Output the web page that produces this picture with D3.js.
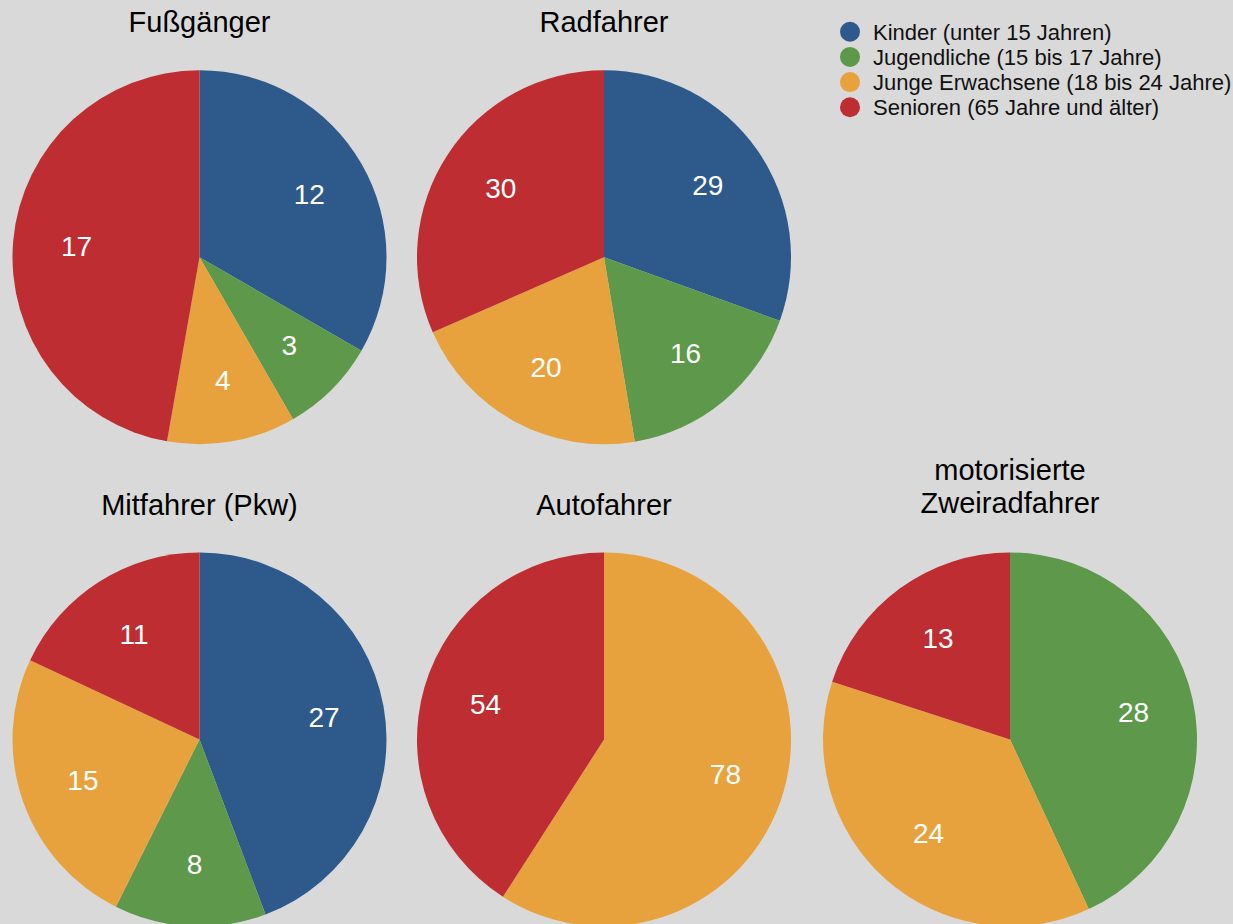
<!DOCTYPE html>
<html>
<head>
<meta charset="utf-8">
<script src="https://cdn.jsdelivr.net/npm/d3@7"></script>
<style>
  html, body { margin: 0; padding: 0; background: #d9d9d9; }
  svg { display: block; font-family: "Liberation Sans", Helvetica, Arial, sans-serif; }
</style>
</head>
<body>
<svg id="chart" width="1233" height="924"></svg>
<script>
// ---- data ----
const categories = [
  "Kinder (unter 15 Jahren)",
  "Jugendliche (15 bis 17 Jahre)",
  "Junge Erwachsene (18 bis 24 Jahre)",
  "Senioren (65 Jahre und älter)"
];
const colors = ["#2d5a8b", "#5e984a", "#e8a23d", "#bd2d32"];

const chartTitles = [
  ["Fußgänger"],
  ["Radfahrer"],
  ["Mitfahrer (Pkw)"],
  ["Autofahrer"],
  ["motorisierte", "Zweiradfahrer"]
];
const fussgaenger = [12, 3, 4, 17];
const radfahrer = [29, 16, 20, 30];
const mitfahrer = [27, 8, 15, 11];
const autofahrer = [0, 0, 78, 54];
const zweiradfahrer = [0, 28, 24, 13];
const seriesValues = [fussgaenger, radfahrer, mitfahrer, autofahrer, zweiradfahrer];

// ---- layout ----
const svg = d3.select("#chart");
const R = 187;
const labelR = 125;
const centers = [
  [199.5, 257.2],
  [604, 257.2],
  [199.5, 739.5],
  [604, 739.5],
  [1010, 739.5]
];
const titleBaselines = [32, 32, 515, 515, 480];

const color = d3.scaleOrdinal().domain(d3.range(categories.length)).range(colors);
const pie = d3.pie().sort(null).value(d => d.v);
const arc = d3.arc().innerRadius(0).outerRadius(R);
const labelArc = d3.arc().innerRadius(labelR).outerRadius(labelR);

seriesValues.forEach((vals, i) => {
  const data = vals.map((v, k) => ({ v, k })).filter(d => d.v > 0);
  const g = svg.append("g").attr("transform", `translate(${centers[i][0]},${centers[i][1]})`);
  const arcs = pie(data);
  g.selectAll("path.slice").data(arcs).join("path")
    .attr("class", "slice")
    .attr("d", arc)
    .attr("fill", d => color(d.data.k));
  g.selectAll("text.lbl").data(arcs).join("text")
    .attr("class", "lbl")
    .attr("transform", d => `translate(${labelArc.centroid(d)})`)
    .attr("text-anchor", "middle")
    .attr("dx", 1.5)
    .attr("dy", "0.34em")
    .attr("fill", "#ffffff")
    .attr("font-size", 28)
    .text(d => d.data.v);

  const t = svg.append("text")
    .attr("x", centers[i][0])
    .attr("y", titleBaselines[i])
    .attr("text-anchor", "middle")
    .attr("font-size", 29)
    .attr("fill", "#000");
  chartTitles[i].forEach((line, j) => {
    t.append("tspan").attr("x", centers[i][0]).attr("dy", j === 0 ? 0 : 33).text(line);
  });
});

// ---- legend ----
const legend = svg.append("g").attr("transform", "translate(850,31.7)");
const items = legend.selectAll("g").data(categories).join("g")
  .attr("transform", (d, i) => `translate(0,${i * 25.2})`);
items.append("circle").attr("r", 10).attr("fill", (d, i) => color(i));
items.append("text")
  .attr("x", 23)
  .attr("dy", "0.36em")
  .attr("font-size", 22)
  .attr("fill", "#111")
  .text(d => d);
</script>
</body>
</html>
